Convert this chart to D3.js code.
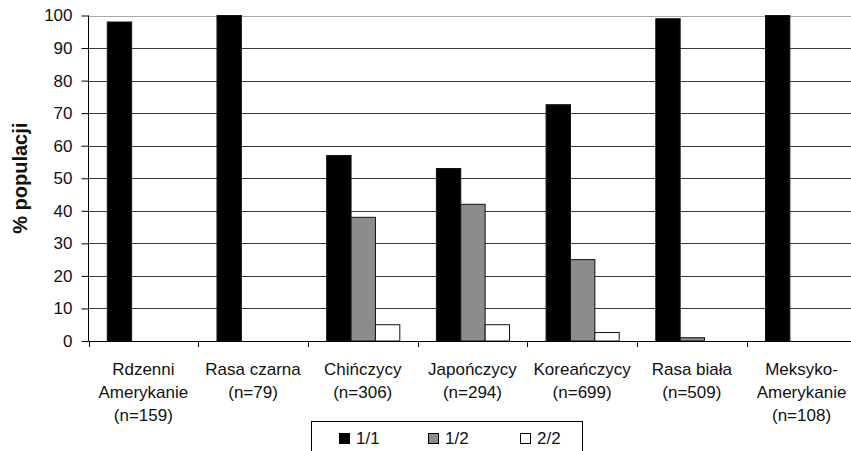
<!DOCTYPE html>
<html>
<head>
<meta charset="utf-8">
<script src="https://cdn.jsdelivr.net/npm/d3@7"></script>
<style>
  html, body { margin: 0; padding: 0; background: #fff; }
  svg { display: block; font-family: Arial, "Liberation Sans", sans-serif; }
</style>
</head>
<body>
<svg id="chart" width="851" height="451"></svg>
<script>
// Populations (label lines) and genotype shares in percent
const categories = [
  ["Rdzenni", "Amerykanie", "(n=159)"],
  ["Rasa czarna", "(n=79)"],
  ["Chińczycy", "(n=306)"],
  ["Japończycy", "(n=294)"],
  ["Koreańczycy", "(n=699)"],
  ["Rasa biała", "(n=509)"],
  ["Meksyko-", "Amerykanie", "(n=108)"]
];
const seriesNames = ["1/1", "1/2", "2/2"];
const values11 = [98, 100, 57, 53, 72.6, 99, 100];
const values12 = [0, 0, 38, 42, 25, 1, 0];
const values22 = [0, 0, 5, 5, 2.6, 0, 0];
const yTicks = [0, 10, 20, 30, 40, 50, 60, 70, 80, 90, 100];
const seriesFill = ["#000000", "#8c8d8a", "#ffffff"];

const svg = d3.select("#chart");
const plotLeft = 88.5, plotTop = 15.5, plotBottom = 341, step = 109.7;
const plotRight = plotLeft + step * categories.length;

const x = d3.scaleBand()
  .domain(d3.range(categories.length))
  .range([plotLeft, plotRight])
  .paddingInner(0).paddingOuter(0);
const barW = x.bandwidth() / 4.5;
const xs = d3.scaleBand()
  .domain(seriesNames)
  .range([(x.bandwidth() - 3 * barW) / 2, (x.bandwidth() + 3 * barW) / 2]);
const y = d3.scaleLinear().domain([0, 100]).range([plotBottom, plotTop]);

// Horizontal gridlines
svg.append("g").selectAll("line")
  .data(yTicks.filter(t => t > 0))
  .join("line")
  .attr("x1", plotLeft).attr("x2", plotRight)
  .attr("y1", d => Math.round(y(d)) + 0.5).attr("y2", d => Math.round(y(d)) + 0.5)
  .attr("stroke", d => d === 100 ? "#a8a8a8" : "#3a3a3a")
  .attr("stroke-width", 1);

// Bars
const table = categories.map((c, i) => ({
  i, vals: [values11[i], values12[i], values22[i]]
}));
const groups = svg.append("g").selectAll("g")
  .data(table)
  .join("g")
  .attr("transform", d => `translate(${x(d.i)},0)`);
groups.selectAll("rect")
  .data(d => d.vals.map((v, k) => ({ v, k })).filter(e => e.v > 0))
  .join("rect")
  .attr("x", e => xs(seriesNames[e.k]) + 0.5)
  .attr("width", barW)
  .attr("y", e => y(e.v))
  .attr("height", e => plotBottom - y(e.v))
  .attr("fill", e => seriesFill[e.k])
  .attr("stroke", "#111")
  .attr("stroke-width", 1);

// Y axis
const yAxis = d3.axisLeft(y).tickValues(yTicks).tickSize(7).tickPadding(9)
  .tickFormat(d3.format("d"));
const gy = svg.append("g")
  .attr("transform", `translate(${plotLeft},0)`)
  .call(yAxis);
gy.select(".domain").attr("stroke", "#000").attr("d", `M0,${plotTop}V${plotBottom}`);
gy.selectAll(".tick line").attr("stroke", "#000");
gy.selectAll(".tick text")
  .attr("font-size", 17).attr("fill", "#111")
  .attr("font-family", "Arial, 'Liberation Sans', sans-serif");

// X axis with category boundary ticks
svg.append("line")
  .attr("x1", plotLeft).attr("x2", plotRight)
  .attr("y1", plotBottom + 0.5).attr("y2", plotBottom + 0.5)
  .attr("stroke", "#000");
svg.append("g").selectAll("line")
  .data(d3.range(categories.length + 1))
  .join("line")
  .attr("x1", i => Math.round(plotLeft + i * step) + 0.5)
  .attr("x2", i => Math.round(plotLeft + i * step) + 0.5)
  .attr("y1", plotBottom).attr("y2", plotBottom + 6)
  .attr("stroke", "#000");

// Category labels
const lab = svg.append("g").selectAll("text")
  .data(table)
  .join("text")
  .attr("text-anchor", "middle")
  .attr("font-size", 17)
  .attr("fill", "#111");
lab.selectAll("tspan")
  .data(d => categories[d.i].map(line => ({ line, cx: x(d.i) + x.bandwidth() / 2 })))
  .join("tspan")
  .attr("x", t => t.cx)
  .attr("y", (t, j) => 375 + j * 23)
  .text(t => t.line);

// Y axis title
svg.append("text")
  .attr("transform", `translate(27,${(plotTop + plotBottom) / 2}) rotate(-90)`)
  .attr("text-anchor", "middle")
  .attr("font-size", 20)
  .attr("font-weight", "bold")
  .attr("fill", "#111")
  .text("% populacji");

// Legend
const leg = svg.append("g");
leg.append("rect")
  .attr("x", 311.5).attr("y", 421.5)
  .attr("width", 271).attr("height", 40)
  .attr("fill", "#fff").attr("stroke", "#000");
const legX = [339, 428, 520];
seriesNames.forEach((name, k) => {
  leg.append("rect")
    .attr("x", legX[k] + 0.5).attr("y", 433.5)
    .attr("width", 10).attr("height", 10)
    .attr("fill", seriesFill[k]).attr("stroke", "#000");
  leg.append("text")
    .attr("x", legX[k] + 17).attr("y", 444)
    .attr("font-size", 17).attr("fill", "#111")
    .text(name);
});
</script>
</body>
</html>
